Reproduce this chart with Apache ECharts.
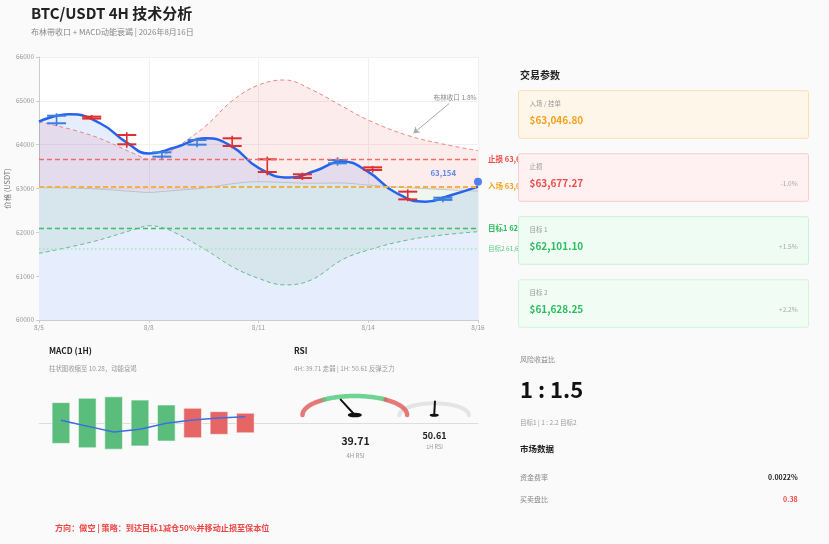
<!DOCTYPE html>
<html><head><meta charset="utf-8">
<script src="https://cdn.jsdelivr.net/npm/echarts@6/dist/echarts.min.js"></script>
<style>html,body{margin:0;padding:0;background:#fafafa;}#c{width:829px;height:544px;}</style>
</head><body><div id="c"></div>
<script>
const FONT = '"Noto Sans CJK SC","Noto Sans",sans-serif';

// ---- main chart x ticks (position 0..100 along the axis) ----
const tickPos = [0, 25, 50, 75, 100];
const tickLabels = ['8/5', '8/8', '8/11', '8/14', '8/16'];

// ---- 4H candles ----
const candleX     = [4, 12, 20, 28, 36, 44, 52, 60, 68, 76, 84, 92];
const candleOpen  = [64488, 64640, 64221, 63727, 64000, 64145, 63666, 63324, 63575, 63483, 62928, 62740];
const candleClose = [64661, 64595, 64008, 63826, 64107, 63970, 63377, 63240, 63650, 63422, 62752, 62791];
const candleLow   = [64426, 64563, 63931, 63666, 63940, 63917, 63301, 63194, 63521, 63361, 62708, 62685];
const candleHigh  = [64716, 64677, 64282, 63879, 64160, 64205, 63726, 63361, 63711, 63514, 62982, 62829];

// ---- price trend line ----
const priceX = [0, 7, 14, 20, 25, 31, 38, 44, 50, 57, 63, 69, 75, 81, 88, 94, 100];
const priceY = [64524, 64692, 64483, 64046, 63800, 63935, 64145, 63955, 63470, 63250, 63405, 63615, 63380, 62920, 62700, 62852, 63042];
const lastPrice = 63154;

// ---- Bollinger bands ----
const bandX     = [0, 12, 22, 25, 28, 31, 38, 44, 50, 56, 62, 69, 75, 84, 92, 100];
const bandUpper = [64524, 64210, 63781, 63670, 63750, 63920, 64430, 65000, 65360, 65476, 65260, 64880, 64560, 64210, 64015, 63863];
const bandMid   = [63022, 62995, 62928, 62910, 62930, 62955, 63015, 63108, 63155, 63138, 63120, 63125, 63078, 63018, 62978, 62939];
const bandLower = [61520, 61780, 62074, 62150, 62110, 61990, 61600, 61216, 60950, 60800, 60913, 61370, 61597, 61825, 61940, 62015];

// ---- trade levels ----
const levelNames  = ['入场 / 挂单', '止损', '目标 1', '目标 2'];
const levelValues = [63046.80, 63677.27, 62101.10, 61628.25];
const levelPct    = ['', '-1.0%', '+1.5%', '+2.2%'];

// ---- MACD (1H) ----
const macdX    = [5, 11, 17, 23, 29, 35, 41, 47];
const macdHist = [-21.4, -26.0, -27.5, -24.1, -18.9, 15.5, 11.9, 10.28];
const macdLine = [2.8, -3.3, -9.5, -6.6, -0.3, 3.2, 5.3, 6.6];

// ---- RSI ----
const rsiValues = [39.71, 50.61];
const rsiNames  = ['4H RSI', '1H RSI'];

// ---- market data ----
const fundingRate = '0.0022%';
const bidAskRatio = '0.38';

const fmt = v => v.toLocaleString('en-US', {minimumFractionDigits: 2, maximumFractionDigits: 2});
const fmt0 = v => Math.round(v).toLocaleString('en-US');
const zip = (xs, ys) => xs.map((x, i) => [x, ys[i]]);

function T(x, y, text, size, color, bold, align, z) {
  return {type: 'text', x: x, y: y, z: z || 110, silent: true,
    style: {text: text, fill: color, fontSize: size, fontWeight: bold ? 'bold' : 'normal', fontFamily: FONT,
      align: align || 'left', verticalAlign: 'middle', textAlign: align || 'left', textVerticalAlign: 'middle'}};
}

function gauge(cx, cy, rx, ry, value, segs, width, needleF, blobR) {
  const els = [];
  const pt = f => { const a = Math.PI * (1 - f); return [cx + rx * Math.cos(a), cy - ry * Math.sin(a)]; };
  segs.forEach(s => {
    const pts = [];
    for (let i = 0; i <= 48; i++) pts.push(pt(s[0] + (s[1] - s[0]) * i / 48));
    els.push({type: 'polyline', z: 100, silent: true, shape: {points: pts},
      style: {stroke: s[2], lineWidth: width, lineCap: 'round', fill: null}});
  });
  const a = Math.PI * (1 - value / 100);
  els.push({type: 'line', z: 101, silent: true,
    shape: {x1: cx, y1: cy, x2: cx + needleF * rx * Math.cos(a), y2: cy - needleF * ry * Math.sin(a)},
    style: {stroke: '#111', lineWidth: 2, lineCap: 'round'}});
  els.push({type: 'circle', z: 102, silent: true, x: cx, y: cy, scaleY: 0.33,
    shape: {cx: 0, cy: 0, r: blobR}, style: {fill: '#111'}});
  return els;
}

const graphics = [];
// header
graphics.push(T(31, 13, 'BTC/USDT 4H 技术分析', 15, '#222', true));
graphics.push(T(31, 32, '布林带收口 + MACD动能衰竭 | 2026年8月16日', 8, '#888', false));
// right panel
graphics.push(T(520, 75, '交易参数', 10, '#222', true));
const cardTops = [90.7, 153.7, 216.7, 279.7];
const cardFill = ['#fff6ea', '#fff1f1', '#effcf3', '#f1fcf5'];
const cardLine = ['#fddcb0', '#fccccc', '#c8f0d4', '#d3f3dd'];
const cardColor = ['#f5a01e', '#ef4b4b', '#2dbd5e', '#2dbd5e'];
cardTops.forEach((top, i) => {
  graphics.push({type: 'rect', z: 100, silent: true, shape: {x: 518.5, y: top, width: 290, height: 47.6, r: 2},
    style: {fill: cardFill[i], stroke: cardLine[i], lineWidth: 1}});
  graphics.push(T(529.5, top + 12.6, levelNames[i], 6.5, '#999', false));
  graphics.push(T(529.5, top + 29.3, '$' + fmt(levelValues[i]), 10, cardColor[i], true));
  if (levelPct[i]) graphics.push(T(797.7, top + 30, levelPct[i], 6.5, '#aaa', false, 'right'));
});
graphics.push(T(520, 359.5, '风险收益比', 7, '#888', false));
graphics.push(T(520, 390, '1 : 1.5', 22, '#111', true));
graphics.push(T(520, 422.5, '目标1 | 1 : 2.2 目标2', 6.5, '#999', false));
graphics.push(T(520, 449, '市场数据', 8.5, '#222', true));
graphics.push(T(520, 477, '资金费率', 7, '#888', false));
graphics.push(T(797.7, 477, fundingRate, 7, '#222', true, 'right'));
graphics.push(T(520, 499, '买卖盘比', 7, '#888', false));
graphics.push(T(797.7, 499, bidAskRatio, 7, '#ef4b4b', true, 'right'));
// MACD panel
graphics.push(T(49, 351, 'MACD (1H)', 8.3, '#222', true));
graphics.push(T(49, 369, '柱状图收缩至 ' + Math.abs(macdHist[macdHist.length - 1]) + '，动能衰竭', 6.4, '#999', false));
// RSI panel
graphics.push(T(294, 351, 'RSI', 8.3, '#222', true));
graphics.push(T(294, 369, '4H: ' + rsiValues[0] + ' 走弱 | 1H: ' + rsiValues[1] + ' 反弹乏力', 6.4, '#999', false));
gauge(434.2, 415.3, 34.8, 12, rsiValues[1], [[0, 1, '#e4e4e4']], 4, 1.15, 4.5).forEach(e => graphics.push(e));
gauge(354.8, 415, 52.3, 19, rsiValues[0],
  [[0, 0.3, 'rgba(226,96,96,0.85)'], [0.3, 0.7, 'rgba(86,204,128,0.85)'], [0.7, 1, 'rgba(226,96,96,0.85)']],
  4.5, 0.85, 7).forEach(e => graphics.push(e));
graphics.push(T(355.5, 441, rsiValues[0].toFixed(2), 10.5, '#222', true, 'center'));
graphics.push(T(355.5, 456, rsiNames[0], 6, '#999', false, 'center'));
graphics.push(T(434.5, 436, rsiValues[1].toFixed(2), 9, '#222', true, 'center'));
graphics.push(T(434.5, 447, rsiNames[1], 5.5, '#999', false, 'center'));
// footer
graphics.push(T(55, 528, '方向：做空 | 策略：到达目标1减仓50%并移动止损至保本位', 8.1, '#ef4444', true));

const chart = echarts.init(document.getElementById('c'), null, {renderer: 'canvas'});
const option = {
  animation: false,
  backgroundColor: '#fafafa',
  textStyle: {fontFamily: FONT},
  graphic: {elements: graphics},
  grid: [
    {left: 39, top: 57, width: 439, height: 263, show: true, backgroundColor: '#ffffff', borderWidth: 0,
      containLabel: false, outerBoundsMode: 'none'},
    {left: 39, top: 383, width: 439, height: 80, containLabel: false, outerBoundsMode: 'none'}
  ],
  xAxis: [
    {gridIndex: 0, type: 'value', min: 0, max: 100, interval: 25,
      axisLine: {show: true, lineStyle: {color: '#cccccc'}},
      axisTick: {show: true, length: 3, lineStyle: {color: '#cccccc'}},
      axisLabel: {fontSize: 6.5, color: '#999', margin: 4,
        formatter: v => { const i = tickPos.indexOf(v); return i >= 0 ? tickLabels[i] : ''; }},
      splitLine: {show: true, lineStyle: {color: '#f0f0f0'}}},
    {gridIndex: 1, type: 'value', min: 0, max: 100,
      axisLine: {show: true, onZero: true, lineStyle: {color: '#dddddd'}},
      axisTick: {show: false}, axisLabel: {show: false}, splitLine: {show: false}}
  ],
  yAxis: [
    {gridIndex: 0, type: 'value', min: 60000, max: 66000, interval: 1000,
      name: '价格 (USDT)', nameLocation: 'middle', nameGap: 28, nameMoveOverlap: false,
      nameTextStyle: {fontSize: 7.4, color: '#777'},
      axisLine: {show: true, lineStyle: {color: '#cccccc'}},
      axisTick: {show: true, length: 3, lineStyle: {color: '#cccccc'}},
      axisLabel: {fontSize: 6.5, color: '#999', margin: 5, formatter: v => String(v)},
      splitLine: {show: true, lineStyle: {color: '#f0f0f0'}}},
    {gridIndex: 1, type: 'value', min: -42, max: 42, show: false}
  ],
  series: [
    {name: 'upper', type: 'line', xAxisIndex: 0, yAxisIndex: 0, data: zip(bandX, bandUpper),
      smooth: 0.4, symbol: 'none', silent: true,
      lineStyle: {color: 'rgba(236,96,96,0.75)', width: 1, type: [4, 3]},
      areaStyle: {color: 'rgba(240,80,80,0.11)', opacity: 1}},
    {name: 'mid', type: 'line', xAxisIndex: 0, yAxisIndex: 0, data: zip(bandX, bandMid),
      smooth: 0.4, symbol: 'none', silent: true,
      lineStyle: {color: 'rgba(170,170,180,0.6)', width: 1},
      areaStyle: {color: '#eef6ed', opacity: 1}},
    {name: 'lower', type: 'line', xAxisIndex: 0, yAxisIndex: 0, data: zip(bandX, bandLower),
      smooth: 0.4, symbol: 'none', silent: true,
      lineStyle: {color: 'rgba(60,175,100,0.75)', width: 1, type: [4, 3]},
      areaStyle: {color: '#ffffff', opacity: 1}},
    {name: 'price', type: 'line', xAxisIndex: 0, yAxisIndex: 0, data: zip(priceX, priceY),
      smooth: 0.5, symbol: 'none', silent: true,
      lineStyle: {color: '#2563eb', width: 2.5},
      areaStyle: {color: 'rgba(47,111,235,0.12)', opacity: 1},
      markLine: {silent: true, symbol: ['none', 'none'], animation: false,
        label: {show: true, position: 'end', distance: 10},
        data: [
          {yAxis: levelValues[1], lineStyle: {color: '#f26b6b', type: [5, 3], width: 1.3},
            label: {formatter: '止损 ' + fmt0(levelValues[1]), color: '#f04848', fontWeight: 'bold', fontSize: 7.5}},
          {yAxis: levelValues[0], lineStyle: {color: '#f5b041', type: [5, 3], width: 2},
            label: {formatter: '入场 ' + fmt0(levelValues[0]), color: '#f5a01e', fontWeight: 'bold', fontSize: 7.5}},
          {yAxis: levelValues[2], lineStyle: {color: '#3cbf6a', type: [5, 3], width: 1.3},
            label: {formatter: '目标1 ' + fmt0(levelValues[2]), color: '#2dbd5e', fontWeight: 'bold', fontSize: 7.5}},
          {yAxis: levelValues[3], lineStyle: {color: '#a8e3bd', type: [1.5, 2.5], width: 1.5},
            label: {formatter: '目标2 ' + fmt0(levelValues[3]), color: '#5cc97f', fontSize: 6.5}},
          [{coord: [93.5, 64944], symbol: 'none', lineStyle: {color: '#aaaaaa', width: 1, type: 'solid'}, label: {show: false}},
           {coord: [85.3, 64260], symbol: 'arrow', symbolSize: 6}]
        ]},
      markPoint: {silent: true, symbol: 'circle', symbolSize: 1, itemStyle: {color: 'rgba(0,0,0,0)'},
        data: [{coord: [99.8, 65072], label: {show: true, position: 'left', distance: 0,
          formatter: '布林收口 1.8%', color: '#888', fontSize: 6.6}}]}},
    {name: 'candles', type: 'custom', xAxisIndex: 0, yAxisIndex: 0, z: 4, silent: true,
      data: candleX.map((x, i) => [x, candleOpen[i], candleClose[i], candleLow[i], candleHigh[i]]),
      encode: {x: 0, y: [1, 2, 3, 4]},
      renderItem: function (params, api) {
        const x = api.value(0), o = api.value(1), c = api.value(2), l = api.value(3), h = api.value(4);
        const po = api.coord([x, o]), pc = api.coord([x, c]), pl = api.coord([x, l]), ph = api.coord([x, h]);
        const color = c >= o ? '#3b7de0' : '#e02d2d';
        const hw = 9.5;
        return {type: 'group', children: [
          {type: 'line', shape: {x1: ph[0], y1: ph[1], x2: pl[0], y2: pl[1]}, style: {stroke: color, lineWidth: 1.6}},
          {type: 'line', shape: {x1: po[0] - hw, y1: po[1], x2: po[0] + hw, y2: po[1]}, style: {stroke: color, lineWidth: 2}},
          {type: 'line', shape: {x1: pc[0] - hw, y1: pc[1], x2: pc[0] + hw, y2: pc[1]}, style: {stroke: color, lineWidth: 2}}
        ]};
      }},
    {name: 'last', type: 'scatter', xAxisIndex: 0, yAxisIndex: 0, z: 5, silent: true,
      data: [[100, lastPrice]], symbolSize: 8, itemStyle: {color: '#2563eb'},
      label: {show: true, formatter: fmt0(lastPrice), position: 'left', distance: 18, offset: [0, -9],
        color: '#3b6fe0', fontWeight: 'bold', fontSize: 7.8}},
    {name: 'hist', type: 'custom', xAxisIndex: 1, yAxisIndex: 1, z: 2, silent: true,
      data: zip(macdX, macdHist), encode: {x: 0, y: 1},
      renderItem: function (params, api) {
        const x = api.value(0), v = api.value(1);
        const a = api.coord([x, Math.abs(v)]), b = api.coord([x, -Math.abs(v)]);
        const w = 17.7;
        return {type: 'rect', shape: {x: a[0] - w / 2, y: a[1], width: w, height: b[1] - a[1]},
          style: {fill: v < 0 ? '#5bbd7b' : '#e66666', stroke: 'rgba(255,255,255,0.55)', lineWidth: 1}};
      }},
    {name: 'macd', type: 'line', xAxisIndex: 1, yAxisIndex: 1, z: 3, silent: true,
      data: zip(macdX, macdLine), symbol: 'none', lineStyle: {color: '#3d6fe0', width: 1.5}}
  ]
};
chart.setOption(option);
</script></body></html>
